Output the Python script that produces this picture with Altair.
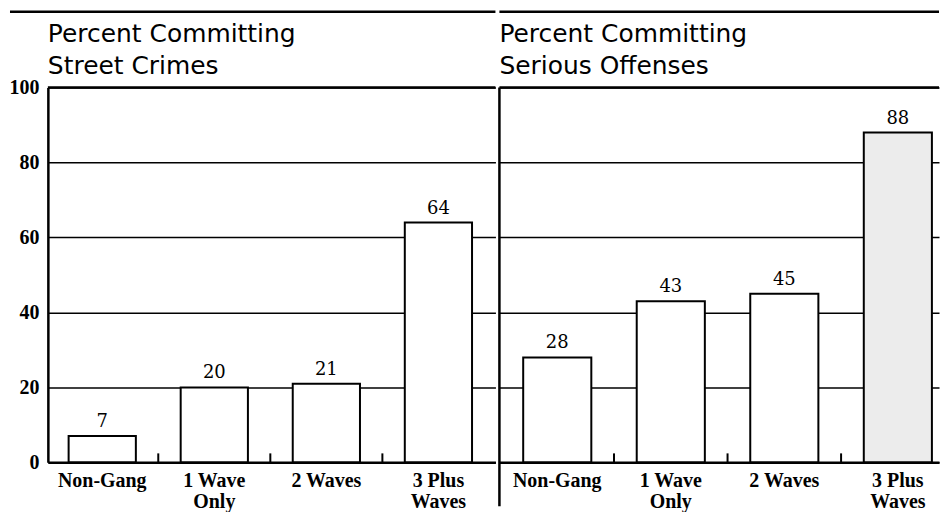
import altair as alt
import pandas as pd

# ---- data ----
categories = ["Non-Gang", "1 Wave Only", "2 Waves", "3 Plus Waves"]
street_crimes = [7, 20, 21, 64]
serious_offenses = [28, 43, 45, 88]
street_shaded = [False, False, False, False]
serious_shaded = [False, False, False, True]
boundary_categories = ["1 Wave Only", "2 Waves", "3 Plus Waves"]
street_title = ["Percent Committing", "Street Crimes"]
serious_title = ["Percent Committing", "Serious Offenses"]
y_tick_values = [0, 20, 40, 60, 80, 100]

# ---- layout / style ----
H = 376
PAD_INNER = 0.40

label_expr = ("datum.label == '1 Wave Only' ? ['1 Wave', 'Only'] : "
              "datum.label == '3 Plus Waves' ? ['3 Plus', 'Waves'] : datum.label")


def panel(values, shade, title_lines, left, W, pad_outer, align):
    step = W / (len(categories) - PAD_INNER + 2 * pad_outer)
    gap = step * PAD_INNER
    df = pd.DataFrame({"category": categories, "value": values, "shade": shade})
    bdf = pd.DataFrame({"category": boundary_categories})
    one = alt.Data(values=[{"k": 1}])

    xscale = alt.Scale(paddingInner=PAD_INNER, paddingOuter=pad_outer, align=align)
    xaxis = alt.Axis(title=None, labelAngle=0, labelExpr=label_expr,
                     labelFont="Liberation Serif", labelFontWeight="bold",
                     labelFontSize=20, labelColor="black", labelPadding=8,
                     labelLineHeight=21, ticks=False, tickSize=0,
                     domainColor="black", domainWidth=2.5, grid=False)
    if left:
        yaxis = alt.Axis(title=None, values=y_tick_values, grid=True,
                         gridColor="black", gridWidth=1.5, gridOpacity=1,
                         labelFont="Liberation Serif", labelFontWeight="bold",
                         labelFontSize=20, labelColor="black", labelPadding=9,
                         ticks=False, tickSize=0, domain=True,
                         domainColor="black", domainWidth=2.5)
    else:
        yaxis = alt.Axis(title=None, values=y_tick_values, grid=True,
                         gridColor="black", gridWidth=1.5, gridOpacity=1,
                         labels=False, ticks=False, tickSize=0, domain=False)
    yscale = alt.Scale(domain=[0, 100], nice=False)

    x = alt.X("category:N", sort=categories, scale=xscale, axis=xaxis)
    y = alt.Y("value:Q", scale=yscale, axis=yaxis)

    bars = alt.Chart(df).mark_bar(stroke="black", strokeWidth=2).encode(
        x=x, y=y,
        fill=alt.condition("datum.shade", alt.value("#ececec"), alt.value("white")),
    )
    labels = alt.Chart(df).mark_text(
        baseline="alphabetic", dy=-9, font="DejaVu Serif", fontSize=18,
        color="black"
    ).encode(x=alt.X("category:N", sort=categories), y="value:Q", text="value:Q")

    ticks = alt.Chart(bdf).mark_rule(
        color="black", strokeWidth=2, xOffset=-gap / 2
    ).encode(
        x=alt.X("category:N", sort=categories, bandPosition=0),
        y=alt.value(H), y2=alt.value(H - 9),
    )

    top_border = alt.Chart(one).mark_rule(color="black", strokeWidth=2.5).encode(
        x=alt.value(0), x2=alt.value(W), y=alt.value(0)
    )
    top_line = alt.Chart(one).mark_rule(color="black", strokeWidth=2.5).encode(
        x=alt.value(-38 if left else 0), x2=alt.value(W),
        y=alt.value(-76)
    )
    title = alt.Chart(one).mark_text(
        text=title_lines, align="left", baseline="alphabetic",
        font="DejaVu Sans", fontSize=25, lineHeight=32, color="black"
    ).encode(x=alt.value(0), y=alt.value(-46))

    layers = [bars, labels, ticks, top_border, top_line, title]
    if not left:
        divider = alt.Chart(one).mark_rule(color="black", strokeWidth=2.5).encode(
            x=alt.value(0), y=alt.value(0), y2=alt.value(H + 44)
        )
        layers.append(divider)
    return alt.layer(*layers).properties(width=W, height=H)


left_panel = panel(street_crimes, street_shaded, street_title, True, 449, 0.197, 0.47)
right_panel = panel(serious_offenses, serious_shaded, serious_title, False, 441, 0.136, 0.77)

chart = alt.hconcat(left_panel, right_panel, spacing=0).properties(
    padding={"left": 0, "top": 1, "right": 0, "bottom": 0},
    background="white",
).configure_view(stroke=None)

chart.save("out.html", embed_options={"renderer": "svg", "actions": False})
